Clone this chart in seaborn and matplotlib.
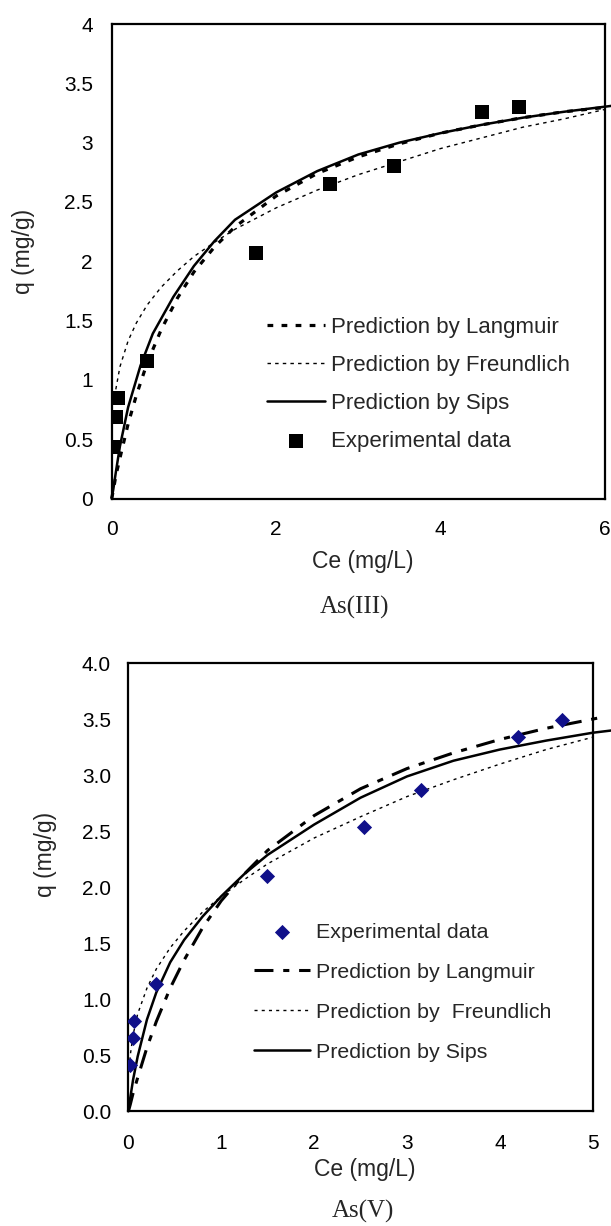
import matplotlib
matplotlib.use("Agg")
import matplotlib.pyplot as plt
import seaborn as sns
from matplotlib.ticker import FuncFormatter

# ---------------- As(III) data ----------------
ce_exp_III = [0.02, 0.05, 0.08, 0.43, 1.76, 2.65, 3.43, 4.50, 4.96]
q_exp_III = [0.43, 0.69, 0.85, 1.16, 2.07, 2.65, 2.80, 3.26, 3.30]

ce_lang_III = [0, 0.02, 0.05, 0.1, 0.2, 0.3, 0.43, 0.6, 0.8, 1.0, 1.25, 1.5,
               2.0, 2.5, 3.0, 3.5, 4.0, 4.5, 5.0, 5.5, 6.05]
q_lang_III = [0, 0.07, 0.19, 0.34, 0.63, 0.87, 1.14, 1.42, 1.69, 1.91, 2.12, 2.29,
              2.55, 2.74, 2.88, 2.99, 3.08, 3.15, 3.21, 3.26, 3.30]

ce_freu_III = [0.05, 0.1, 0.2, 0.3, 0.43, 0.6, 0.8, 1.0, 1.25, 1.5, 2.0, 2.5,
               3.0, 3.5, 4.0, 4.5, 5.0, 5.5, 6.0]
q_freu_III = [0.92, 1.11, 1.33, 1.48, 1.63, 1.78, 1.92, 2.04, 2.16, 2.27, 2.45, 2.60,
              2.73, 2.84, 2.95, 3.04, 3.13, 3.20, 3.28]

ce_sips_III = [0, 0.02, 0.05, 0.1, 0.2, 0.35, 0.5, 0.75, 1.0, 1.25, 1.5, 2.0,
               2.5, 3.0, 3.5, 4.0, 4.5, 5.0, 5.5, 6.08]
q_sips_III = [0, 0.08, 0.22, 0.44, 0.77, 1.12, 1.39, 1.70, 1.96, 2.17, 2.35, 2.58,
              2.76, 2.90, 3.00, 3.08, 3.15, 3.21, 3.26, 3.31]

# ---------------- As(V) data ----------------
ce_exp_V = [0.016, 0.045, 0.063, 0.30, 1.49, 2.54, 3.15, 4.20, 4.67]
q_exp_V = [0.41, 0.655, 0.81, 1.14, 2.10, 2.54, 2.87, 3.34, 3.49]

ce_lang_V = [0, 0.02, 0.05, 0.1, 0.2, 0.3, 0.45, 0.6, 0.8, 1.0, 1.25, 1.5,
             2.0, 2.5, 3.0, 3.5, 4.0, 4.5, 5.05]
q_lang_V = [0, 0.06, 0.16, 0.30, 0.57, 0.80, 1.10, 1.35, 1.64, 1.88, 2.12, 2.33,
            2.64, 2.88, 3.06, 3.20, 3.32, 3.42, 3.51]

ce_freu_V = [0.01, 0.02, 0.05, 0.1, 0.2, 0.3, 0.45, 0.6, 0.8, 1.0, 1.25, 1.5,
             2.0, 2.5, 3.0, 3.5, 4.0, 4.5, 5.0]
q_freu_V = [0.39, 0.50, 0.68, 0.87, 1.10, 1.27, 1.46, 1.61, 1.78, 1.92, 2.07, 2.21,
            2.44, 2.63, 2.81, 2.96, 3.10, 3.23, 3.34]

ce_sips_V = [0, 0.02, 0.05, 0.1, 0.2, 0.3, 0.45, 0.6, 0.8, 1.0, 1.25, 1.5,
             2.0, 2.5, 3.0, 3.5, 4.0, 4.5, 5.0, 5.2]
q_sips_V = [0, 0.12, 0.28, 0.49, 0.82, 1.06, 1.33, 1.53, 1.74, 1.92, 2.12, 2.29,
            2.56, 2.80, 2.99, 3.13, 3.23, 3.31, 3.38, 3.40]

LBL_LANG = "Prediction by Langmuir"
LBL_FREU_III = "Prediction by Freundlich"
LBL_FREU_V = "Prediction by  Freundlich"
LBL_SIPS = "Prediction by Sips"
LBL_EXP = "Experimental data"

sns.set_style("white")
plt.rcParams['font.family'] = ['Liberation Sans', 'DejaVu Sans']

W, H = 611, 1226
fig = plt.figure(figsize=(W / 100, H / 100), dpi=100)
fig.patch.set_facecolor('white')


def px_axes(l, r, t, b):
    return fig.add_axes([l / W, 1 - b / H, (r - l) / W, (b - t) / H])


ax1 = px_axes(111.7, 605.0, 24.0, 498.5)
ax2 = px_axes(128.4, 592.7, 663.3, 1111.3)


def curve(ax, x, y, lw, dashes, label):
    sns.lineplot(x=x, y=y, ax=ax, color='black', linewidth=lw, sort=False,
                 estimator=None, label=label)
    ln = ax.lines[-1]
    if dashes is not None:
        ln.set_dashes(dashes)
    ln.set_dash_capstyle('butt')
    ln.set_clip_on(False)
    return ln


# ---- top panel ----
curve(ax1, ce_lang_III, q_lang_III, 2.3, (1.8, 2.6), LBL_LANG)
curve(ax1, ce_freu_III, q_freu_III, 1.0, (2.5, 3.0), LBL_FREU_III)
curve(ax1, ce_sips_III, q_sips_III, 1.8, None, LBL_SIPS)
sns.scatterplot(x=ce_exp_III, y=q_exp_III, ax=ax1, marker='s', s=100,
                color='black', linewidth=0, label=LBL_EXP, zorder=4)

# ---- bottom panel ----
curve(ax2, ce_lang_V, q_lang_V, 2.2, (6.2, 3.2, 2.0, 3.2), LBL_LANG)
curve(ax2, ce_freu_V, q_freu_V, 1.0, (2.2, 3.0), LBL_FREU_V)
curve(ax2, ce_sips_V, q_sips_V, 1.8, None, LBL_SIPS)
sns.scatterplot(x=ce_exp_V, y=q_exp_V, ax=ax2, marker='D', s=60,
                color='#10108a', linewidth=0, label=LBL_EXP, zorder=4)

for ax in (ax1, ax2):
    ax.set_facecolor('white')
    for sp in ax.spines.values():
        sp.set_visible(True)
        sp.set_linewidth(1.6)
        sp.set_color('black')
    ax.grid(False)
    ax.tick_params(axis='both', direction='inout', length=10, width=1.6,
                   colors='black', labelsize=15, labelcolor='black')

ax1.set_xlim(0, 6)
ax1.set_ylim(0, 4)
ax1.set_xticks([0, 2, 4, 6])
ax1.set_yticks([0, 0.5, 1, 1.5, 2, 2.5, 3, 3.5, 4])
ax1.yaxis.set_major_formatter(FuncFormatter(lambda v, p: f"{v:g}"))
ax1.xaxis.set_major_formatter(FuncFormatter(lambda v, p: f"{v:g}"))
ax1.tick_params(axis='y', pad=8.5)
ax1.tick_params(axis='x', pad=10.5)

ax2.set_xlim(0, 5)
ax2.set_ylim(0, 4)
ax2.set_xticks([0, 1, 2, 3, 4, 5])
ax2.set_yticks([0, 0.5, 1, 1.5, 2, 2.5, 3, 3.5, 4])
ax2.yaxis.set_major_formatter(FuncFormatter(lambda v, p: f"{v:.1f}"))
ax2.xaxis.set_major_formatter(FuncFormatter(lambda v, p: f"{v:g}"))
ax2.tick_params(axis='y', pad=7.5)
ax2.tick_params(axis='x', pad=11.0)

# axis labels
ax1.set_xlabel("Ce (mg/L)", fontsize=16.5, va='center')
ax1.set_ylabel("q (mg/g)", fontsize=16.5, va='center')
ax1.xaxis.set_label_coords(0.5086, -0.1332)
ax1.yaxis.set_label_coords(-0.1798, 0.5205)

ax2.set_xlabel("Ce (mg/L)", fontsize=16.5, va='center')
ax2.set_ylabel("q (mg/g)", fontsize=16.5, va='center')
ax2.xaxis.set_label_coords(0.5083, -0.131)
ax2.yaxis.set_label_coords(-0.1796, 0.574)

# legends
def make_legend(ax, order, anchor_px, fs, hl, ls):
    h, l = ax.get_legend_handles_labels()
    d = dict(zip(l, h))
    ax.legend([d[k] for k in order], order, loc='upper left',
              bbox_to_anchor=(anchor_px[0] / W, 1 - anchor_px[1] / H),
              bbox_transform=fig.transFigure, frameon=False, fontsize=fs,
              handlelength=hl, handletextpad=0.28, labelspacing=ls,
              borderpad=0, borderaxespad=0)

make_legend(ax1, [LBL_LANG, LBL_FREU_III, LBL_SIPS, LBL_EXP], (267, 317), 16.0, 2.6, 0.76)
make_legend(ax2, [LBL_EXP, LBL_LANG, LBL_FREU_V, LBL_SIPS], (254, 923), 15.4, 2.6, 0.98)

# panel captions
fig.text(354.6 / W, 1 - 614 / H, "As(III)", family=['Liberation Serif', 'DejaVu Serif'],
         fontsize=18, ha='center', va='baseline')
fig.text(362.8 / W, 1 - 1218 / H, "As(V)", family=['Liberation Serif', 'DejaVu Serif'],
         fontsize=18, ha='center', va='baseline')

fig.savefig("out.png", dpi=100, facecolor='white')
